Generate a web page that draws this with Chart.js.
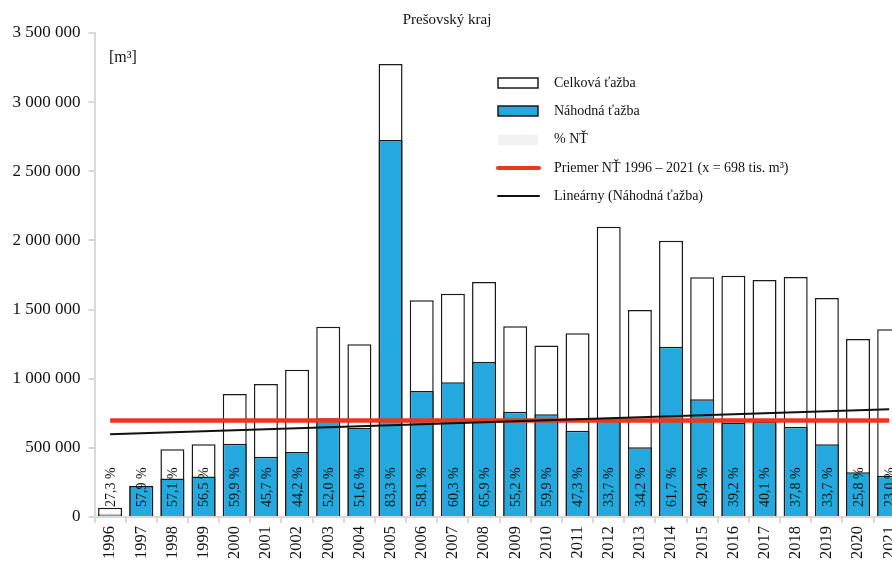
<!DOCTYPE html>
<html>
<head>
<meta charset="utf-8">
<script src="https://cdn.jsdelivr.net/npm/chart.js@4"></script>
<style>
  html, body { margin: 0; padding: 0; background: #fff; overflow: hidden; width: 892px; height: 564px; }
  #wrap { width: 912px; height: 564px; }
</style>
</head>
<body>
<div id="wrap"><canvas id="chart" width="912" height="564"></canvas></div>
<script>
// data
const years = ['1996','1997','1998','1999','2000','2001','2002','2003','2004','2005','2006','2007','2008',
               '2009','2010','2011','2012','2013','2014','2015','2016','2017','2018','2019','2020','2021'];
const totalHarvest = [67000, 224000, 490000, 526000, 889000, 962000, 1065000, 1375000, 1250000, 3276000,
                      1568000, 1615000, 1699000, 1380000, 1240000, 1328000, 2099000, 1497000, 1998000,
                      1733000, 1745000, 1714000, 1735000, 1584000, 1287000, 1357000];
const randomHarvest = [18000, 224000, 278000, 293000, 530000, 436000, 470000, 714000, 643000, 2726000,
                       911000, 974000, 1121000, 761000, 743000, 624000, 707000, 504000, 1231000,
                       851000, 684000, 687000, 653000, 526000, 323000, 299000];
const randomPct = [27.3, 57.9, 57.1, 56.5, 59.9, 45.7, 44.2, 52.0, 51.6, 83.3, 58.1, 60.3, 65.9,
                   55.2, 59.9, 47.3, 33.7, 34.2, 61.7, 49.4, 39.2, 40.1, 37.8, 33.7, 25.8, 23.0];
const avgRandom = 698000;
const trendStart = 598000;
const trendEnd = 779000;
const yTicks = [0, 500000, 1000000, 1500000, 2000000, 2500000, 3000000, 3500000];

const SERIF = '"Liberation Serif", "Times New Roman", serif';
const BLUE = '#23a9dd';
const RED = '#e8381e';
const GRAY = '#d9d9d9';

const avgLine = years.map(() => avgRandom);
const trendLine = years.map((y, i) => i === 0 ? trendStart : (i === years.length - 1 ? trendEnd : null));

function fmt(v) {
    return String(v).replace(/\B(?=(\d{3})+(?!\d))/g, ' ');
}

// title, unit, % labels and the legend
const extras = {
    id: 'extras',
    afterDraw(chart) {
        const ctx = chart.ctx;
        ctx.save();
        ctx.fillStyle = '#111';
        ctx.textBaseline = 'middle';

        ctx.font = '15px ' + SERIF;
        ctx.textAlign = 'center';
        ctx.fillText('Prešovský kraj', 447, 20);

        ctx.font = '16px ' + SERIF;
        ctx.textAlign = 'left';
        ctx.fillText('[m³]', 109, 58);

        // percentage labels inside the bars
        const meta = chart.getDatasetMeta(1);
        const base = chart.scales.y.getPixelForValue(0);
        ctx.font = '14px ' + SERIF;
        meta.data.forEach((bar, i) => {
            ctx.save();
            ctx.translate(bar.x + 1, base - 10);
            ctx.rotate(-Math.PI / 2);
            ctx.textAlign = 'left';
            ctx.fillText(randomPct[i].toFixed(1).replace('.', ',') + ' %', 0, 0);
            ctx.restore();
        });

        // legend
        const lx = 498, tx = 554;
        const rows = [83, 111, 139.5, 168, 196];
        ctx.lineWidth = 1.5;
        ctx.fillStyle = '#fff';
        ctx.fillRect(lx, rows[0] - 5, 40, 10);
        ctx.strokeStyle = '#1a1a1a';
        ctx.strokeRect(lx, rows[0] - 5, 40, 10);
        ctx.fillStyle = BLUE;
        ctx.fillRect(lx, rows[1] - 5, 40, 10);
        ctx.strokeRect(lx, rows[1] - 5, 40, 10);
        ctx.fillStyle = '#f2f2f2';
        ctx.fillRect(lx, rows[2] - 5, 40, 11);
        ctx.lineCap = 'round';
        ctx.strokeStyle = RED;
        ctx.lineWidth = 4;
        ctx.beginPath(); ctx.moveTo(lx, rows[3]); ctx.lineTo(lx + 41, rows[3]); ctx.stroke();
        ctx.strokeStyle = '#111';
        ctx.lineWidth = 2;
        ctx.beginPath(); ctx.moveTo(lx, rows[4]); ctx.lineTo(lx + 41, rows[4]); ctx.stroke();

        ctx.fillStyle = '#111';
        ctx.font = '14px ' + SERIF;
        ctx.textAlign = 'left';
        const texts = ['Celková ťažba', 'Náhodná ťažba', '% NŤ',
                       'Priemer NŤ 1996 – 2021 (x = 698 tis. m³)', 'Lineárny (Náhodná ťažba)'];
        texts.forEach((t, i) => ctx.fillText(t, tx, rows[i]));
        ctx.restore();
    }
};

new Chart(document.getElementById('chart'), {
    type: 'bar',
    data: {
        labels: years,
        datasets: [
            {
                type: 'line',
                label: 'Lineárny (Náhodná ťažba)',
                data: trendLine,
                spanGaps: true,
                borderColor: '#111',
                borderWidth: 2,
                pointRadius: 0,
                order: 0
            },
            {
                type: 'line',
                label: 'Priemer NŤ 1996 – 2021',
                data: avgLine,
                borderColor: RED,
                borderWidth: 4.5,
                pointRadius: 0,
                order: 1
            },
            {
                label: 'Náhodná ťažba',
                data: randomHarvest,
                backgroundColor: BLUE,
                borderColor: '#1a1a1a',
                borderWidth: 1.5,
                grouped: false,
                categoryPercentage: 1,
                barPercentage: 0.77,
                order: 2
            },
            {
                label: 'Celková ťažba',
                data: totalHarvest,
                backgroundColor: '#fff',
                borderColor: '#1a1a1a',
                borderWidth: 1.5,
                grouped: false,
                categoryPercentage: 1,
                barPercentage: 0.77,
                order: 3
            }
        ]
    },
    options: {
        responsive: false,
        animation: false,
        layout: { padding: { top: 33, right: 1, left: 0, bottom: 0 } },
        plugins: {
            legend: { display: false },
            title: { display: false },
            tooltip: { enabled: false }
        },
        scales: {
            x: {
                offset: true,
                grid: { offset: true, drawOnChartArea: false, color: GRAY, lineWidth: 2, tickLength: 6 },
                border: { color: GRAY, width: 2 },
                ticks: {
                    autoSkip: false, minRotation: 90, maxRotation: 90, padding: 3,
                    color: '#111', font: { family: SERIF, size: 16.5 }
                },
                afterFit(scale) { scale.height = 47; }
            },
            y: {
                min: 0,
                max: 3500000,
                afterBuildTicks(scale) { scale.ticks = yTicks.map(v => ({ value: v })); },
                grid: { drawOnChartArea: false, color: GRAY, lineWidth: 2, tickLength: 6 },
                border: { color: GRAY, width: 2 },
                ticks: {
                    padding: 8, color: '#111', font: { family: SERIF, size: 17 },
                    callback: v => fmt(v)
                },
                afterFit(scale) { scale.width = 94.5; }
            }
        }
    },
    plugins: [extras]
});
</script>
</body>
</html>
